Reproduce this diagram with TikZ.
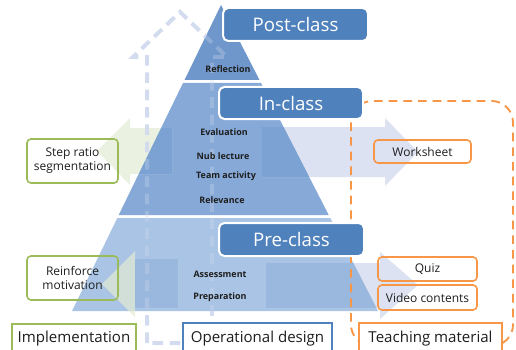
\documentclass[tikz,border=0pt]{standalone}
\usepackage{fontspec}
\setmainfont{Open Sans}
\definecolor{tierTop}{HTML}{6F97CB}
\definecolor{tierMid}{HTML}{86A9D7}
\definecolor{tierBot}{HTML}{A9C4E4}
\definecolor{shadeMid}{HTML}{7BA2D2}
\definecolor{shadeBot}{HTML}{9AB8DE}
\definecolor{labelBlue}{HTML}{4F81BD}
\definecolor{boxGreen}{HTML}{9BBB59}
\definecolor{boxOrange}{HTML}{F79646}
\definecolor{dashBlue}{HTML}{D3DCEE}
\definecolor{greenLight}{HTML}{E3EBD3}
\definecolor{blueLight}{HTML}{D3DBEE}
\definecolor{inkDark}{HTML}{1E1E1E}
\begin{document}
\begin{tikzpicture}[x=0.75pt,y=-0.75pt,
  stagebox/.style={draw=white, line width=1.5pt, fill=labelBlue, rounded corners=4pt,
    text=white, font=\fontsize{14}{16}\selectfont, inner sep=0pt},
  tierlabel/.style={text=inkDark, font=\bfseries\fontsize{6.7}{8}\selectfont, inner sep=0pt},
  sidebox/.style={draw=#1, line width=1.2pt, rounded corners=3pt, text=inkDark,
    font=\fontsize{9}{10.5}\selectfont, align=center, inner sep=0pt},
  basebox/.style={draw=#1, line width=1.5pt, fill=white, text=inkDark,
    font=\fontsize{11.3}{13}\selectfont, inner sep=0pt},
  lightarrowG/.style={fill=greenLight, fill opacity=0.7},
  lightarrowB/.style={fill=blueLight, fill opacity=0.8},
  flowdash/.style={draw=dashBlue, line width=3pt, dash pattern=on 8pt off 5pt},
  groupdash/.style={draw=boxOrange, line width=1.4pt, dash pattern=on 6.5pt off 4.5pt, rounded corners=16pt}
]
\useasboundingbox (0,0) rectangle (516,349);
\clip (0,0) rectangle (516,349);

% pyramid tiers
\fill[tierTop] (221,5) -- (259.5,80) -- (184.5,80) -- cycle;
\fill[tierMid] (183,83) -- (261,83) -- (328.7,215) -- (118.7,215) -- cycle;
\fill[tierBot] (117.3,218) -- (330.3,218) -- (378,311) -- (72,311) -- cycle;

% wide block arrows
\fill[lightarrowG] (97,151) -- (130,118) -- (130,128) -- (172,128) -- (172,174) -- (130,174) -- (130,185) -- cycle;
\fill[lightarrowB] (418,152) -- (385,118) -- (385,127) -- (262,127) -- (262,177) -- (385,177) -- (385,186) -- cycle;
\fill[lightarrowG] (102,284) -- (135,251) -- (135,259) -- (178,259) -- (178,308) -- (135,308) -- (135,317) -- cycle;
\fill[lightarrowB] (418,285) -- (380,252) -- (380,263) -- (266,263) -- (266,308) -- (380,308) -- (380,319) -- cycle;

% arrow bodies where they cross the pyramid
\begin{scope}
  \clip (221,5) -- (378,311) -- (72,311) -- cycle;
  \fill[shadeMid] (130,128) rectangle (172,174);
  \fill[shadeMid] (262,127) rectangle (385,177);
  \fill[shadeBot] (135,259) rectangle (178,308);
  \fill[shadeBot] (266,263) rectangle (385,308);
\end{scope}

% upward dashed arrow: full strength outside the pyramid, faint across it
\begin{scope}[even odd rule]
  \clip (0,0) rectangle (516,349) (221,5) -- (378,311) -- (72,311) -- cycle;
  \draw[flowdash] (147,343) -- (147,57) -- (133,57) -- (180,12) -- (227,57) -- (212,57) -- (212,343) -- cycle;
\end{scope}
\begin{scope}
  \clip (221,5) -- (378,311) -- (72,311) -- cycle;
  \draw[flowdash, draw opacity=0.3] (147,343) -- (147,57) -- (133,57) -- (180,12) -- (227,57) -- (212,57) -- (212,343) -- cycle;
\end{scope}

% dashed group around the teaching material
\draw[groupdash] (351,101) rectangle (513,346);

% tier contents
\node[tierlabel] (reflection) at (228,69) {Reflection};
\node[tierlabel] (evaluation) at (224,132) {Evaluation};
\node[tierlabel] (nub) at (223,156) {Nub lecture};
\node[tierlabel] (team) at (226,176) {Team activity};
\node[tierlabel] (relevance) at (222,200) {Relevance};
\node[tierlabel] (assessment) at (220,274) {Assessment};
\node[tierlabel] (preparation) at (220,297) {Preparation};

% stage labels
\node[stagebox, minimum width=108.75pt, minimum height=24.75pt] (post) at (295.5,24.5) {Post-class};
\node[stagebox, minimum width=108pt, minimum height=24pt] (in) at (291,103) {In-class};
\node[stagebox, minimum width=108.75pt, minimum height=24.75pt] (pre) at (291.5,239.5) {Pre-class};

% side boxes
\node[sidebox=boxGreen, minimum width=68.25pt, minimum height=33pt] (stepratio) at (72.5,161) {Step ratio\\segmentation};
\node[sidebox=boxGreen, minimum width=68.25pt, minimum height=33pt] (reinforce) at (72.5,278) {Reinforce\\motivation};
\node[sidebox=boxOrange, minimum width=72.75pt, minimum height=17.25pt] (worksheet) at (422.5,151.5) {Worksheet};
\node[sidebox=boxOrange, minimum width=74.25pt, minimum height=18pt] (quiz) at (427.5,269) {Quiz};
\node[sidebox=boxOrange, minimum width=74.25pt, minimum height=18.75pt] (video) at (427.5,297.5) {Video contents};

% bottom headings
\node[basebox=boxGreen, minimum width=93pt, minimum height=22.5pt] (impl) at (74,339) {Implementation};
\node[basebox=labelBlue, minimum width=111.75pt, minimum height=23.25pt] (opdesign) at (257.5,338.5) {Operational design};
\node[basebox=boxOrange, minimum width=107.25pt, minimum height=23.25pt] (teaching) at (430.5,338.5) {Teaching material};
\end{tikzpicture}
\end{document}
